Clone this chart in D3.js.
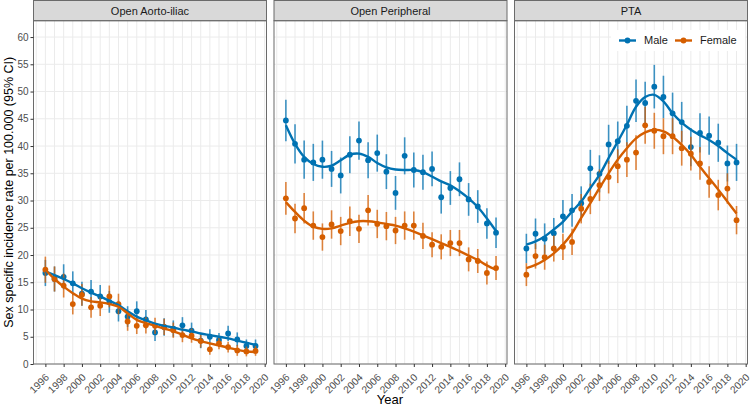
<!DOCTYPE html>
<html><head><meta charset="utf-8">
<script src="https://cdn.jsdelivr.net/npm/d3@7"></script>
<style>body{margin:0;background:#fff}svg{display:block;font-family:"Liberation Sans",Arial,sans-serif}</style>
</head><body><svg id="c" width="753" height="410"></svg>
<script>
const years = [1996,1997,1998,1999,2000,2001,2002,2003,2004,2005,2006,2007,2008,2009,2010,2011,2012,2013,2014,2015,2016,2017,2018,2019];
const panelNames = ["Open Aorto-iliac","Open Peripheral","PTA"];
const seriesNames = ["Male","Female"];
const seriesColors = ["#0072B2","#D55E00"];
const yTicks = [0,5,10,15,20,25,30,35,40,45,50,55,60];
const xTicks = [1996,1998,2000,2002,2004,2006,2008,2010,2012,2014,2016,2018,2020];

// Open Aorto-iliac
const aortoMale      = [16.7,15.6,16.0,14.8,12.9,13.3,12.4,11.4,9.7,8.7,9.7,8.2,5.8,6.8,6.5,7.1,6.1,4.3,5.0,4.4,5.6,4.5,3.3,3.3];
const aortoMaleCI    = [2.4,2.3,2.3,2.2,2.2,2.1,2.1,2.0,1.9,1.9,1.8,1.7,1.6,1.6,1.5,1.5,1.5,1.4,1.4,1.3,1.4,1.3,1.2,1.2];
const aortoMaleFit   = [17.0,16.3,15.6,14.8,13.9,13.1,12.4,11.6,10.8,9.7,8.7,8.0,7.4,7.0,6.7,6.3,6.0,5.6,5.3,5.0,4.7,4.3,3.9,3.5];
const aortoFemale    = [17.3,15.6,14.4,11.0,12.7,10.4,10.7,12.4,11.0,7.8,7.0,7.1,7.0,6.8,6.2,5.3,5.2,4.2,2.7,3.8,3.1,2.5,2.3,2.4];
const aortoFemaleCI  = [2.4,2.3,2.2,1.9,2.0,1.9,1.9,2.0,1.9,1.7,1.5,1.5,1.5,1.5,1.4,1.3,1.3,1.2,1.0,1.1,1.0,1.0,0.9,0.9];
const aortoFemaleFit = [17.3,15.6,14.2,13.0,12.0,11.5,11.3,11.0,10.5,9.3,8.1,7.5,7.0,6.5,6.0,5.4,4.7,4.2,3.8,3.4,3.0,2.6,2.3,2.2];

// Open Peripheral
const periMale       = [44.7,40.4,37.5,37.0,37.5,35.8,34.6,38.4,41.0,37.4,38.7,35.3,31.4,38.2,35.6,35.2,35.8,30.6,32.3,33.9,30.2,28.9,25.8,24.1];
const periMaleCI     = [3.8,3.6,3.5,3.4,3.5,3.3,3.3,3.4,3.5,3.3,3.4,3.2,3.1,3.4,3.2,3.2,3.2,3.0,3.1,3.1,3.0,3.0,2.8,2.8];
const periMaleFit    = [43.8,40.4,38.0,36.7,36.2,36.4,37.4,38.4,38.6,38.0,36.9,36.1,35.7,35.6,35.6,35.2,34.4,33.5,32.8,31.7,30.4,28.8,26.7,24.4];
const periFemale     = [30.4,26.7,28.6,25.4,23.3,25.6,24.4,26.2,24.8,28.2,25.7,25.3,24.5,25.4,25.4,23.5,21.9,21.5,22.2,22.2,19.2,18.9,16.7,17.6];
const periFemaleCI   = [3.0,2.7,2.8,2.6,2.5,2.6,2.6,2.7,2.6,2.8,2.6,2.6,2.5,2.6,2.6,2.4,2.3,2.3,2.4,2.4,2.2,2.2,2.1,2.2];
const periFemaleFit  = [29.7,27.9,26.3,25.2,24.8,24.9,25.4,25.9,26.2,26.2,26.0,25.7,25.4,24.9,24.3,23.6,22.9,22.2,21.5,20.7,19.9,19.1,18.1,17.3];

// PTA
const ptaMale        = [21.2,23.9,23.0,24.0,27.1,28.2,29.5,35.9,34.9,40.3,40.9,43.7,48.3,47.9,50.9,49.0,46.0,44.4,39.8,42.4,41.9,40.6,36.8,37.0];
const ptaMaleCI      = [2.7,2.8,2.8,2.8,3.0,3.0,3.1,3.4,3.4,3.6,3.6,3.7,3.9,3.9,4.0,3.9,3.8,3.7,3.5,3.6,3.5,3.5,3.3,3.4];
const ptaMaleFit     = [21.9,22.5,23.4,24.7,26.1,28.0,29.8,32.3,34.7,37.8,40.8,43.9,47.2,49.0,49.4,48.2,46.0,44.3,43.0,42.0,41.1,40.0,38.7,37.5];
const ptaFemale      = [16.4,19.8,19.6,21.2,21.5,22.4,28.5,30.3,32.8,34.3,36.3,37.5,38.8,43.8,42.8,41.8,41.8,39.6,38.6,36.8,33.4,31.0,32.2,26.4];
const ptaFemaleCI    = [2.1,2.3,2.3,2.4,2.4,2.4,2.7,2.8,2.9,3.0,3.1,3.2,3.2,3.4,3.3,3.3,3.3,3.2,3.1,3.0,2.9,2.8,2.8,2.6];
const ptaFemaleFit   = [17.6,18.2,19.1,20.3,21.9,24.0,26.8,29.5,32.3,35.0,37.5,39.6,41.4,42.5,43.0,42.7,41.7,40.2,38.4,36.2,34.1,32.0,29.8,27.6];

const panelData = [
  [[aortoMale,aortoMaleCI,aortoMaleFit],[aortoFemale,aortoFemaleCI,aortoFemaleFit]],
  [[periMale,periMaleCI,periMaleFit],[periFemale,periFemaleCI,periFemaleFit]],
  [[ptaMale,ptaMaleCI,ptaMaleFit],[ptaFemale,ptaFemaleCI,ptaFemaleFit]]
];

const svg = d3.select("#c");
const panelLeft = [33.5, 274, 514.5];
const panelW = 233;
const pTop = 20.7, pBottom = 364;
const y = d3.scaleLinear().domain([0,63]).range([pBottom, pTop]);

panelNames.forEach((name, pi) => {
  const x0 = panelLeft[pi];
  const x = d3.scaleLinear().domain([1994.7, 2020.2]).range([x0, x0 + panelW]);
  const g = svg.append("g");
  g.append("rect").attr("x", x0).attr("y", pTop).attr("width", panelW).attr("height", pBottom - pTop).attr("fill", "#fff");
  const gridYears = d3.range(1995, 2021);
  g.append("g").selectAll("line").data(gridYears).join("line")
    .attr("x1", d => x(d)).attr("x2", d => x(d)).attr("y1", pTop).attr("y2", pBottom)
    .attr("stroke", "#ebebeb").attr("stroke-width", 1);
  g.append("g").selectAll("line").data(yTicks).join("line")
    .attr("x1", x0).attr("x2", x0 + panelW).attr("y1", d => y(d)).attr("y2", d => y(d))
    .attr("stroke", "#ebebeb").attr("stroke-width", 1);
  g.append("rect").attr("x", x0).attr("y", 0.5).attr("width", panelW).attr("height", pTop - 0.5)
    .attr("fill", "#d9d9d9").attr("stroke", "#6b6b6b").attr("stroke-width", 1);
  g.append("text").attr("x", x0 + panelW / 2).attr("y", pTop / 2 + 0.5).attr("dy", "0.35em")
    .attr("text-anchor", "middle").attr("font-size", 11).attr("fill", "#1a1a1a").text(name);

  const seriesList = panelData[pi];
  seriesList.forEach((s, si) => {
    const [vals, ci] = s;
    g.append("g").selectAll("line").data(years).join("line")
      .attr("x1", d => x(d)).attr("x2", d => x(d))
      .attr("y1", (d, i) => y(vals[i] - ci[i])).attr("y2", (d, i) => y(vals[i] + ci[i]))
      .attr("stroke", seriesColors[si]).attr("stroke-width", 1.6).attr("stroke-opacity", 0.75);
    g.append("g").selectAll("circle").data(years).join("circle")
      .attr("cx", d => x(d)).attr("cy", (d, i) => y(vals[i])).attr("r", 2.9)
      .attr("fill", seriesColors[si]);
  });
  seriesList.forEach((s, si) => {
    const fit = s[2];
    const line = d3.line().x(d => x(d)).y((d, i) => y(fit[i])).curve(d3.curveCatmullRom.alpha(0.5));
    g.append("path").datum(years).attr("d", line).attr("fill", "none")
      .attr("stroke", seriesColors[si]).attr("stroke-width", 2.4);
  });
  g.append("rect").attr("x", x0).attr("y", pTop).attr("width", panelW).attr("height", pBottom - pTop)
    .attr("fill", "none").attr("stroke", "#6b6b6b").attr("stroke-width", 1);
  const xa = g.append("g").attr("transform", `translate(0,${pBottom})`)
    .call(d3.axisBottom(x).tickValues(xTicks).tickFormat(d3.format("d")).tickSize(3).tickSizeOuter(0));
  xa.select(".domain").remove();
  xa.selectAll(".tick line").attr("stroke", "#333");
  xa.selectAll(".tick text").attr("font-size", 10.2).attr("fill", "#4d4d4d")
    .attr("text-anchor", "end").attr("y", 0).attr("dy", 0)
    .attr("transform", "translate(4,14) rotate(-45)");
  xa.attr("font-family", null);

  if (pi === 2) {
    const lg = g.append("g");
    lg.append("rect").attr("x", 611).attr("y", 30).attr("width", 134).attr("height", 21).attr("fill", "#fff");
    const lx = [619, 675];
    seriesNames.forEach((n, si) => {
      lg.append("line").attr("x1", lx[si]).attr("x2", lx[si] + 17).attr("y1", 40.5).attr("y2", 40.5)
        .attr("stroke", seriesColors[si]).attr("stroke-width", 2.4);
      lg.append("circle").attr("cx", lx[si] + 8.5).attr("cy", 40.5).attr("r", 2.9).attr("fill", seriesColors[si]);
      lg.append("text").attr("x", lx[si] + 25).attr("y", 40.5).attr("dy", "0.35em")
        .attr("font-size", 11).attr("fill", "#1a1a1a").text(n);
    });
  }
});

const ya = svg.append("g").attr("transform", `translate(${panelLeft[0]},0)`)
  .call(d3.axisLeft(y).tickValues(yTicks).tickSize(3).tickSizeOuter(0));
ya.select(".domain").remove();
ya.selectAll(".tick line").attr("stroke", "#333");
ya.selectAll(".tick text").attr("font-size", 10).attr("fill", "#4d4d4d").attr("x", -5);
ya.attr("font-family", null);

svg.append("text").attr("x", 390).attr("y", 404).attr("text-anchor", "middle")
  .attr("font-size", 13).attr("fill", "#000").text("Year");
svg.append("text").attr("transform", `translate(13,${(pTop + pBottom) / 2}) rotate(-90)`)
  .attr("text-anchor", "middle").attr("font-size", 12.5).attr("fill", "#000")
  .text("Sex specific incidence rate per 100.000 (95% CI)");
</script></body></html>
